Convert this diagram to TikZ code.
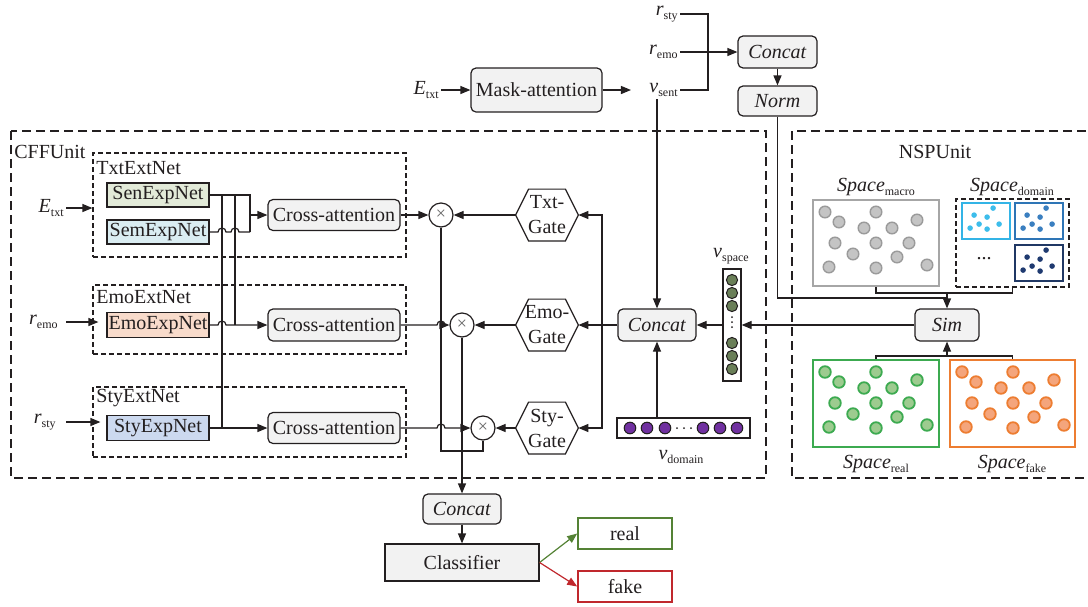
\documentclass[tikz,border=0pt]{standalone}
\usepackage{fontspec}
\setmainfont{Liberation Serif}
\usetikzlibrary{arrows.meta,calc}
\definecolor{linec}{HTML}{231F20}
\definecolor{boxfill}{HTML}{F2F2F2}
\definecolor{senc}{HTML}{E2EAD8}
\definecolor{semc}{HTML}{DAEDF2}
\definecolor{emoc}{HTML}{F8DBCB}
\definecolor{styc}{HTML}{CCD9EF}
\definecolor{macrob}{HTML}{A6A6A6}
\definecolor{macrof}{HTML}{C4C4C4}
\definecolor{macrod}{HTML}{9A9A9A}
\definecolor{realb}{HTML}{3CAA50}
\definecolor{realf}{HTML}{9DCB8F}
\definecolor{fakeb}{HTML}{ED7D31}
\definecolor{fakef}{HTML}{F4A57C}
\definecolor{lbb}{HTML}{33B4E6}
\definecolor{lbd}{HTML}{3DBDEB}
\definecolor{mbb}{HTML}{2E75B6}
\definecolor{mbd}{HTML}{3A7FC0}
\definecolor{dbb}{HTML}{203864}
\definecolor{dbd}{HTML}{1F3A70}
\definecolor{vspc}{HTML}{6A7F58}
\definecolor{vdc}{HTML}{7030A0}
\definecolor{greenc}{HTML}{548235}
\definecolor{redc}{HTML}{C0282D}
\newcommand{\sbs}[1]{\raisebox{-0.45ex}{\fontsize{6}{6}\selectfont #1}}
\newcommand{\hexgate}[1]{\draw[wire] (#1.west) -- ($(#1.north west)+(13,0)$) -- ($(#1.north east)+(-13,0)$) -- (#1.east) -- ($(#1.south east)+(-13,0)$) -- ($(#1.south west)+(13,0)$) -- cycle;}
\def\bigpts{13/13,27/23,64/13,52/29,80/29,105/21,23/44,64/44,97/44,41/55,85/58,17/68,64/69,115/66}
\def\smallpts{32/6,13/13,26/15,18/22,38/22,9/26,26/27}
\begin{document}
\begin{tikzpicture}[x=0.5pt,y=-0.5pt,
 every node/.style={font=\fontsize{10}{12.5}\selectfont, text=linec},
 wire/.style={draw=linec, line width=0.6pt},
 arr/.style={wire, -{Triangle[length=5pt,width=4pt]}},
 rbox/.style={draw=linec, line width=0.6pt, fill=boxfill, rounded corners=2.5pt, inner sep=0pt},
 sqbox/.style={draw=linec, line width=0.6pt, inner sep=0pt},
 bigdash/.style={draw=linec, line width=0.6pt, dash pattern=on 4.5pt off 2.5pt},
 smalldash/.style={draw=linec, line width=0.6pt, dash pattern=on 2.5pt off 1.5pt, inner sep=0pt},
 lbl/.style={inner sep=1pt},
 mul/.style={circle, draw=linec, line width=0.6pt, fill=white, minimum size=12pt, inner sep=0pt, text=black!60, font=\fontsize{9}{9}\selectfont},
 gate/.style={minimum width=31pt, minimum height=25.5pt, inner sep=0pt, align=center},
 hopr/.style={}
]
\useasboundingbox (0,0) rectangle (1088,606);

% ---------- containers ----------
\draw[bigdash] (11,131) rectangle (766,478);
\node[anchor=west, lbl] (cffl) at (12,152) {CFFUnit};
\draw[bigdash] (1100,131) -- (792,131) -- (792,478) -- (1100,478);
\node[lbl] (nspl) at (935,152) {NSPUnit};

\node[smalldash, minimum width=156.5pt, minimum height=52pt] (txtnet) at (249.5,205) {};
\node[smalldash, minimum width=156.5pt, minimum height=34.5pt] (emonet) at (249.5,319.5) {};
\node[smalldash, minimum width=156.5pt, minimum height=35pt] (stynet) at (249.5,422) {};
\node[anchor=west, lbl] (txtl) at (94,168) {TxtExtNet};
\node[anchor=west, lbl] (emol) at (94,297) {EmoExtNet};
\node[anchor=west, lbl] (styl) at (94,398) {StyExtNet};

% ---------- top ----------
\node[lbl, anchor=east] (etop) at (441,90) {\textit{E}\sbs{txt}};
\node[rbox, minimum width=65.5pt, minimum height=22pt] (mask) at (536.5,90) {Mask-attention};
\node[lbl, anchor=east] (rsty) at (680,14) {\textit{r}\sbs{sty}};
\node[lbl, anchor=east] (remo) at (680,52) {\textit{r}\sbs{emo}};
\node[lbl, anchor=east] (vsent) at (680,90) {\textit{v}\sbs{sent}};
\node[rbox, minimum width=39.5pt, minimum height=16pt] (ctop) at (777.5,52) {\textit{Concat}};
\node[rbox, minimum width=39.5pt, minimum height=15pt] (norm) at (777.5,101) {\textit{Norm}};
\draw[arr] (etop.east) -- (mask.west);
\draw[arr] (mask.east) -- ([xshift=-8pt]vsent.west);
\draw[wire] (rsty.east) -- (708,14) -- (708,90) -- (vsent.east);
\draw[arr] (remo.east) -- (ctop.west);
\draw[arr] (ctop.south) -- (norm.north);

% ---------- CFF left ----------
\node[lbl, anchor=east] (le) at (66,208) {\textit{E}\sbs{txt}};
\node[lbl, anchor=east] (lr1) at (60,322) {\textit{r}\sbs{emo}};
\node[lbl, anchor=east] (lr2) at (58,422) {\textit{r}\sbs{sty}};
\draw[arr] (le.east) -- (le.east -| txtnet.west);
\draw[arr] ([xshift=3pt]lr1.east) -- ([xshift=3pt]lr1.east -| emonet.west);
\draw[arr] ([xshift=4pt]lr2.east) -- ([xshift=4pt]lr2.east -| stynet.west);

\node[sqbox, fill=senc, minimum width=51pt, minimum height=12pt] (sen) at (158,195) {SenExpNet};
\node[sqbox, fill=semc, minimum width=51pt, minimum height=12pt] (sem) at (158,232) {SemExpNet};
\node[sqbox, fill=emoc, minimum width=51pt, minimum height=12.5pt] (emo) at (158,325) {EmoExpNet};
\node[sqbox, fill=styc, minimum width=51pt, minimum height=12.5pt] (sty) at (158,428) {StyExpNet};

\node[rbox, minimum width=66pt, minimum height=15.5pt] (ca1) at (334,215) {Cross-attention};
\node[rbox, minimum width=66pt, minimum height=16pt] (ca2) at (334,325) {Cross-attention};
\node[rbox, minimum width=66pt, minimum height=15.5pt] (ca3) at (334,428) {Cross-attention};

\coordinate (j1) at (222,195);
\coordinate (j2) at (235,195);
\coordinate (jt) at (250,215);
\draw[wire] (sen.east) -| (250,232);
\draw[wire] (sem.east) -- (218,232) arc[start angle=180,end angle=0,radius=2pt] -- (231,232) arc[start angle=180,end angle=0,radius=2pt] -- (250,232);
\draw[arr] (jt) -- (ca1.west);
\draw[wire] (j1) -- (222,428);
\draw[wire] (j2) -- (235,325);
\draw[arr] (emo.east) -- (218,325) arc[start angle=180,end angle=0,radius=2pt] -- (ca2.west);
\draw[arr] (sty.east) -- (ca3.west);

% ---------- multiply + gates ----------
\node[mul] (m1) at (441,215) {×};
\node[mul] (m2) at (462,325) {×};
\node[mul] (m3) at (483,428) {×};
\node[gate] (tg) at (547,215) {Txt-\\Gate};
\node[gate] (eg) at (547,325) {Emo-\\Gate};
\node[gate] (sg) at (547,428) {Sty-\\Gate};
\hexgate{tg}
\hexgate{eg}
\hexgate{sg}

\draw[arr] (ca1.east) -- (m1.west);
\draw[arr] (ca2.east) -- (437,325) arc[start angle=180,end angle=0,radius=2pt] -- (m2.west);
\draw[arr] (ca3.east) -- (437,428) arc[start angle=180,end angle=0,radius=2pt] -- (m3.west);
\draw[wire] (m1.south) -- (441,451) -| (m3.south);
\draw[arr] (tg.west) -- (m1.east);
\draw[arr] (eg.west) -- (m2.east);
\draw[arr] (sg.west) -- (m3.east);

\node[rbox, minimum width=39pt, minimum height=16pt] (cm) at (657,325) {\textit{Concat}};
\coordinate (gj) at (602,325);
\draw[arr] (cm.west) -- (eg.east);
\draw[arr] (gj) |- (tg.east);
\draw[arr] (gj) |- (sg.east);
\draw[arr] (cm.north |- vsent.south) -- (cm.north);

% v_space
\node[sqbox, fill=white, minimum width=9pt, minimum height=56pt] (vsp) at (732,325) {};
\foreach \yy in {280,293,306,343,356,369}{\draw[linec, line width=0.5pt, fill=vspc] (732,\yy) circle[radius=2.8pt];}
\foreach \yy in {317,322,327}{\fill[linec] (732,\yy) circle[radius=0.5pt];}
\node[lbl] (vspl) at (731,256) {\textit{v}\sbs{space}};
% v_domain
\node[sqbox, fill=white, minimum width=66.5pt, minimum height=10pt] (vd) at (683.5,428) {};
\foreach \xx in {630,647,665,703,720,737}{\draw[linec, line width=0.5pt, fill=vdc] (\xx,428) circle[radius=2.9pt];}
\foreach \xx in {677,684,691}{\fill[linec] (\xx,428) circle[radius=0.5pt];}
\node[lbl] (vdl) at (681,457) {\textit{v}\sbs{domain}};
\draw[arr] (vd.north -| cm.south) -- (cm.south);
\draw[arr] (vsp.west) -- (cm.east);

% ---------- NSP ----------
\node[lbl] (spm) at (876,187) {\textit{Space}\sbs{macro}};
\node[lbl] (spd) at (1012,187) {\textit{Space}\sbs{domain}};
\node[draw=macrob, line width=1pt, minimum width=63pt, minimum height=43pt, inner sep=0pt] (macro) at (876,243) {};
\foreach \dx/\dy in \bigpts {\draw[draw=macrod, fill=macrof, line width=0.7pt] ($(macro.north west)+(\dx,\dy)$) circle[radius=2.9pt];}
\node[smalldash, minimum width=56.5pt, minimum height=44pt] (dom) at (1012.5,243) {};
\node[draw=lbb, line width=0.9pt, minimum width=24pt, minimum height=18pt, inner sep=0pt] (d1) at (986,221) {};
\node[draw=mbb, line width=0.9pt, minimum width=24pt, minimum height=18pt, inner sep=0pt] (d2) at (1039,221) {};
\node[draw=dbb, line width=0.9pt, minimum width=24pt, minimum height=18pt, inner sep=0pt] (d3) at (1039,263) {};
\foreach \dx/\dy in \smallpts {
  \fill[lbd] ($(d1.north west)+(\dx,\dy)$) circle[radius=1.4pt];
  \fill[mbd] ($(d2.north west)+(\dx,\dy)$) circle[radius=1.4pt];
  \fill[dbd] ($(d3.north west)+(\dx,\dy)$) circle[radius=1.4pt];
}
\node[lbl] (ddots) at (984,259) {...};

\node[rbox, minimum width=32pt, minimum height=16pt] (sim) at (947,325) {\textit{Sim}};
\draw[wire] (macro.south) -- ++(0,6) coordinate (b1) -| (dom.south);
\draw[arr] (b1 -| sim.north) -- (sim.north);
\coordinate (nj) at (947,298);
\draw[wire] (norm.south) |- (nj);
\draw[arr] (sim.west) -- (vsp.east);

\node[draw=realb, line width=1pt, minimum width=63pt, minimum height=43.5pt, inner sep=0pt] (real) at (876,403.5) {};
\node[draw=fakeb, line width=1pt, minimum width=62.5pt, minimum height=43.5pt, inner sep=0pt] (fake) at (1012.5,403.5) {};
\foreach \dx/\dy in \bigpts {
  \draw[draw=realb, fill=realf, line width=0.9pt] ($(real.north west)+(\dx,\dy)$) circle[radius=2.9pt];
  \draw[draw=fakeb, fill=fakef, line width=0.9pt] ($(fake.north west)+(\dx,\dy)$) circle[radius=2.9pt];
}
\draw[wire] (real.north) -- ++(0,-3) coordinate (b2) -| (fake.north);
\draw[arr] (b2 -| sim.south) -- (sim.south);
\node[lbl] (spr) at (876,464) {\textit{Space}\sbs{real}};
\node[lbl] (spf) at (1012,464) {\textit{Space}\sbs{fake}};

% ---------- bottom ----------
\node[rbox, minimum width=39pt, minimum height=15pt] (cb) at (462,509) {\textit{Concat}};
\node[sqbox, fill=boxfill, minimum width=77pt, minimum height=18.5pt] (cls) at (462,562.5) {Classifier};
\node[draw=greenc, line width=0.8pt, minimum width=47pt, minimum height=15.5pt, inner sep=0pt] (realn) at (625,533.5) {real};
\node[draw=redc, line width=0.8pt, minimum width=47pt, minimum height=15.5pt, inner sep=0pt] (faken) at (625,586.5) {fake};
\draw[arr] (m2.south) -- (cb.north);
\draw[arr] (cb.south) -- (cls.north);
\draw[arr, draw=greenc] (cls.east) -- (realn.west);
\draw[arr, draw=redc] (cls.east) -- (faken.west);
\end{tikzpicture}
\end{document}
